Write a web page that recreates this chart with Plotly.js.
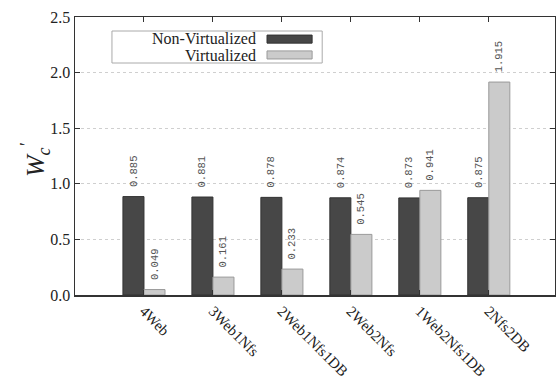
<!DOCTYPE html>
<html>
<head>
<meta charset="utf-8">
<script src="https://cdn.plot.ly/plotly-3.0.1.min.js"></script>
<style>html,body{margin:0;padding:0;background:#fff;}#chart{width:556px;height:379px;}</style>
</head>
<body>
<div id="chart"></div>
<script>
const categories = ["4Web", "3Web1Nfs", "2Web1Nfs1DB", "2Web2Nfs", "1Web2Nfs1DB", "2Nfs2DB"];
const nonVirtualized = [0.885, 0.881, 0.878, 0.874, 0.873, 0.875];
const virtualized = [0.049, 0.161, 0.233, 0.545, 0.941, 1.915];
const seriesNames = ["Non-Virtualized", "Virtualized"];
const yTicks = [0.0, 0.5, 1.0, 1.5, 2.0, 2.5];

const darkColor = "#474747";
const lightColor = "#cbcbcb";

const traces = [
  {type: "bar", name: seriesNames[0], x: categories, y: nonVirtualized,
   marker: {color: darkColor, line: {color: "#333", width: 1}}},
  {type: "bar", name: seriesNames[1], x: categories, y: virtualized,
   marker: {color: lightColor, line: {color: "#9a9a9a", width: 1}}}
];

const labelFont = {family: "Liberation Mono, DejaVu Sans Mono, monospace", size: 10.5, color: "#555"};
const annotations = [];
const halfBar = 10.5;
[nonVirtualized, virtualized].forEach((vals, s) => {
  vals.forEach((v, i) => {
    annotations.push({
      x: categories[i], y: v, xref: "x", yref: "y",
      text: v.toFixed(3), textangle: -90, showarrow: false,
      xshift: s === 0 ? -halfBar : halfBar, yshift: 8, yanchor: "bottom",
      font: labelFont
    });
  });
});

// manual legend (text left of swatch, as in the reference)
const legFont = {family: "Liberation Serif, Times New Roman, serif", size: 16, color: "#222"};
annotations.push({xref: "paper", yref: "paper", x: 0.381, y: 0.921, xanchor: "right", yanchor: "middle",
  text: seriesNames[0], showarrow: false, font: legFont});
annotations.push({xref: "paper", yref: "paper", x: 0.381, y: 0.863, xanchor: "right", yanchor: "middle",
  text: seriesNames[1], showarrow: false, font: legFont});
// y axis title
annotations.push({xref: "paper", yref: "paper", x: -0.083, y: 0.486, xanchor: "center", yanchor: "middle",
  textangle: -90, showarrow: false,
  text: "<i>W<sub>c</sub><sup>'</sup></i>",
  font: {family: "Liberation Serif, Times New Roman, serif", size: 26, color: "#222"}});

const shapes = [
  {type: "rect", xref: "paper", yref: "paper", x0: 0.077, x1: 0.515, y0: 0.8345, y1: 0.9496,
   line: {color: "#aaa", width: 1}, fillcolor: "rgba(0,0,0,0)"},
  {type: "rect", xref: "paper", yref: "paper", x0: 0.40, x1: 0.494, y0: 0.906, y1: 0.935,
   line: {color: "#333", width: 1}, fillcolor: darkColor},
  {type: "rect", xref: "paper", yref: "paper", x0: 0.40, x1: 0.494, y0: 0.849, y1: 0.878,
   line: {color: "#9a9a9a", width: 1}, fillcolor: lightColor}
];

const layout = {
  width: 556, height: 379,
  margin: {l: 75, r: 1, t: 17, b: 84},
  paper_bgcolor: "#fff", plot_bgcolor: "#fff",
  barmode: "group", bargap: 0.39, bargroupgap: 0,
  showlegend: false,
  xaxis: {
    type: "category", range: [-1, 5.96],
    showline: true, linecolor: "#333", linewidth: 1.5, mirror: "ticks",
    ticks: "inside", ticklen: 5, tickcolor: "#333",
    tickangle: 45, showgrid: false, zeroline: false,
    tickfont: {family: "Liberation Serif, Times New Roman, serif", size: 15, color: "#222"}
  },
  yaxis: {
    range: [0, 2.5], tickvals: yTicks, ticktext: yTicks.map(v => v.toFixed(1)),
    showline: true, linecolor: "#333", linewidth: 1.5, mirror: "ticks",
    ticks: "inside", ticklen: 5, tickcolor: "#333",
    showgrid: true, gridcolor: "#cfcfcf", griddash: "dot", gridwidth: 1,
    zeroline: false,
    tickfont: {family: "Liberation Serif, Times New Roman, serif", size: 16, color: "#222"}
  },
  annotations: annotations,
  shapes: shapes
};

Plotly.newPlot("chart", traces, layout, {displayModeBar: false, staticPlot: true});
</script>
</body>
</html>
